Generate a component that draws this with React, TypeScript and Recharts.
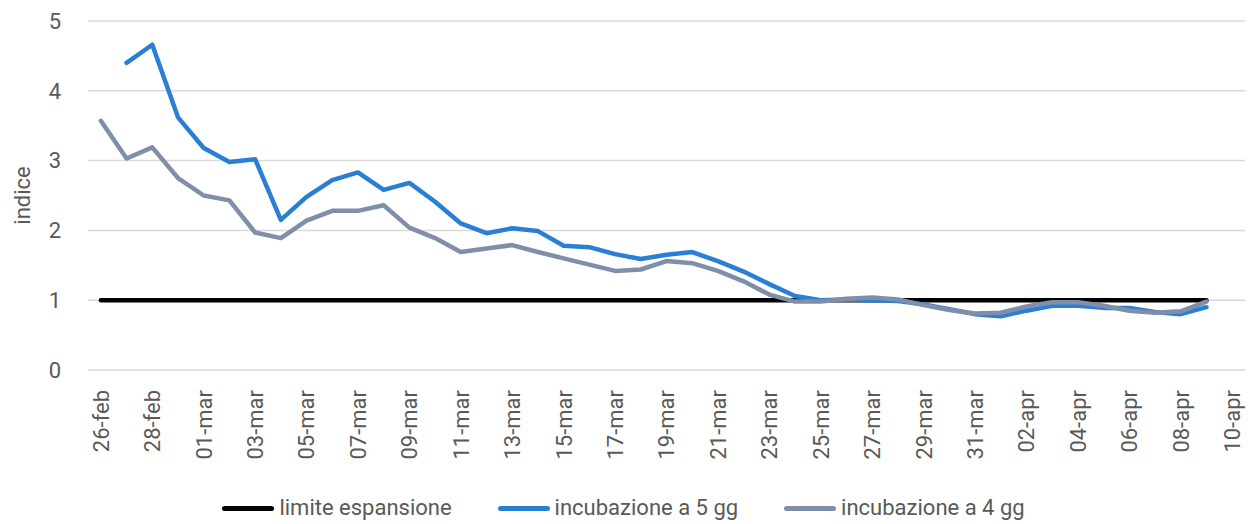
import { LineChart, Line, XAxis, YAxis, CartesianGrid } from 'recharts';

const days = [
  '26-feb', '27-feb', '28-feb', '29-feb',
  '01-mar', '02-mar', '03-mar', '04-mar', '05-mar', '06-mar', '07-mar', '08-mar', '09-mar', '10-mar',
  '11-mar', '12-mar', '13-mar', '14-mar', '15-mar', '16-mar', '17-mar', '18-mar', '19-mar', '20-mar',
  '21-mar', '22-mar', '23-mar', '24-mar', '25-mar', '26-mar', '27-mar', '28-mar', '29-mar', '30-mar',
  '31-mar', '01-apr', '02-apr', '03-apr', '04-apr', '05-apr', '06-apr', '07-apr', '08-apr', '09-apr',
  '10-apr',
];

const limite = [
  1, 1, 1, 1, 1, 1, 1, 1, 1, 1, 1, 1, 1, 1, 1, 1, 1, 1, 1, 1, 1, 1,
  1, 1, 1, 1, 1, 1, 1, 1, 1, 1, 1, 1, 1, 1, 1, 1, 1, 1, 1, 1, 1, 1, null,
];

const incubazione5 = [
  null, 4.40, 4.66, 3.62, 3.18, 2.98, 3.02, 2.15, 2.48, 2.72, 2.83, 2.58, 2.68, 2.41, 2.10,
  1.96, 2.03, 1.99, 1.78, 1.76, 1.66, 1.59, 1.65, 1.69, 1.56, 1.41, 1.23, 1.06, 1.00, 1.01,
  1.00, 0.99, 0.94, 0.87, 0.80, 0.77, 0.85, 0.92, 0.92, 0.89, 0.89, 0.83, 0.80, 0.90, null,
];

const incubazione4 = [
  3.57, 3.03, 3.19, 2.75, 2.50, 2.43, 1.97, 1.89, 2.14, 2.28, 2.28, 2.36, 2.04, 1.89, 1.69,
  1.74, 1.79, 1.69, 1.60, 1.51, 1.42, 1.44, 1.56, 1.53, 1.42, 1.27, 1.08, 0.98, 0.98, 1.02,
  1.04, 1.01, 0.93, 0.86, 0.81, 0.82, 0.91, 0.97, 0.97, 0.92, 0.85, 0.82, 0.84, 0.98, null,
];

const yTicks = [0, 1, 2, 3, 4, 5];

const series = [
  { key: 'limite', name: 'limite espansione', color: '#000000' },
  { key: 'inc5', name: 'incubazione a 5 gg', color: '#2a7fd5' },
  { key: 'inc4', name: 'incubazione a 4 gg', color: '#7f8fa9' },
];

const data = days.map((d, i) => ({
  day: d,
  limite: limite[i],
  inc5: incubazione5[i],
  inc4: incubazione4[i],
}));

const FONT = 'Roboto, "Noto Sans", sans-serif';
const TEXT = '#595959';

function DayTick({ x, y, payload }: any) {
  return (
    <text
      x={x}
      y={y}
      transform={`rotate(-90 ${x} ${y})`}
      textAnchor="end"
      dy="0.36em"
      fill={TEXT}
      fontSize={22}
      fontFamily={FONT}
    >
      {payload.value}
    </text>
  );
}

export default function App() {
  return (
    <div style={{ position: 'absolute', left: 0, top: 0, width: 1257, height: 524, background: '#fff', fontFamily: FONT }}>
      <LineChart width={1257} height={480} data={data} margin={{ top: 21, right: 12, left: 0, bottom: 0 }}>
        <CartesianGrid vertical={false} stroke="#d9d9d9" strokeWidth={1.5} />
        <XAxis
          dataKey="day"
          interval={1}
          axisLine={false}
          tickLine={false}
          tickMargin={14}
          height={110}
          padding={{ left: 12.86, right: 12.86 }}
          tick={<DayTick />}
        />
        <YAxis
          domain={[0, 5]}
          ticks={yTicks}
          width={88}
          axisLine={false}
          tickLine={false}
          tickMargin={21}
          tick={{ fill: TEXT, fontSize: 22, fontFamily: FONT }}
          label={{
            content: ({ viewBox }: any) => {
              const cy = viewBox.y + viewBox.height / 2;
              return (
                <text
                  x={22}
                  y={cy}
                  transform={`rotate(-90 22 ${cy})`}
                  textAnchor="middle"
                  dominantBaseline="central"
                  fill={TEXT}
                  fontSize={22}
                  fontFamily={FONT}
                >
                  indice
                </text>
              );
            },
          }}
        />
        {series.map((s) => (
          <Line
            key={s.key}
            type="linear"
            dataKey={s.key}
            name={s.name}
            stroke={s.color}
            strokeWidth={4.5}
            strokeLinecap="round"
            strokeLinejoin="round"
            dot={false}
            activeDot={false}
            isAnimationActive={false}
          />
        ))}
      </LineChart>
      <div
        style={{
          position: 'absolute',
          left: 0,
          top: 494,
          width: 1247,
          display: 'flex',
          justifyContent: 'center',
          gap: 46,
          color: TEXT,
          fontSize: 22,
          lineHeight: '28px',
        }}
      >
        {series.map((s) => (
          <div key={s.key} style={{ display: 'flex', alignItems: 'center' }}>
            <div style={{ width: 52, height: 5, borderRadius: 3, background: s.color, marginRight: 5 }} />
            <span>{s.name}</span>
          </div>
        ))}
      </div>
    </div>
  );
}
